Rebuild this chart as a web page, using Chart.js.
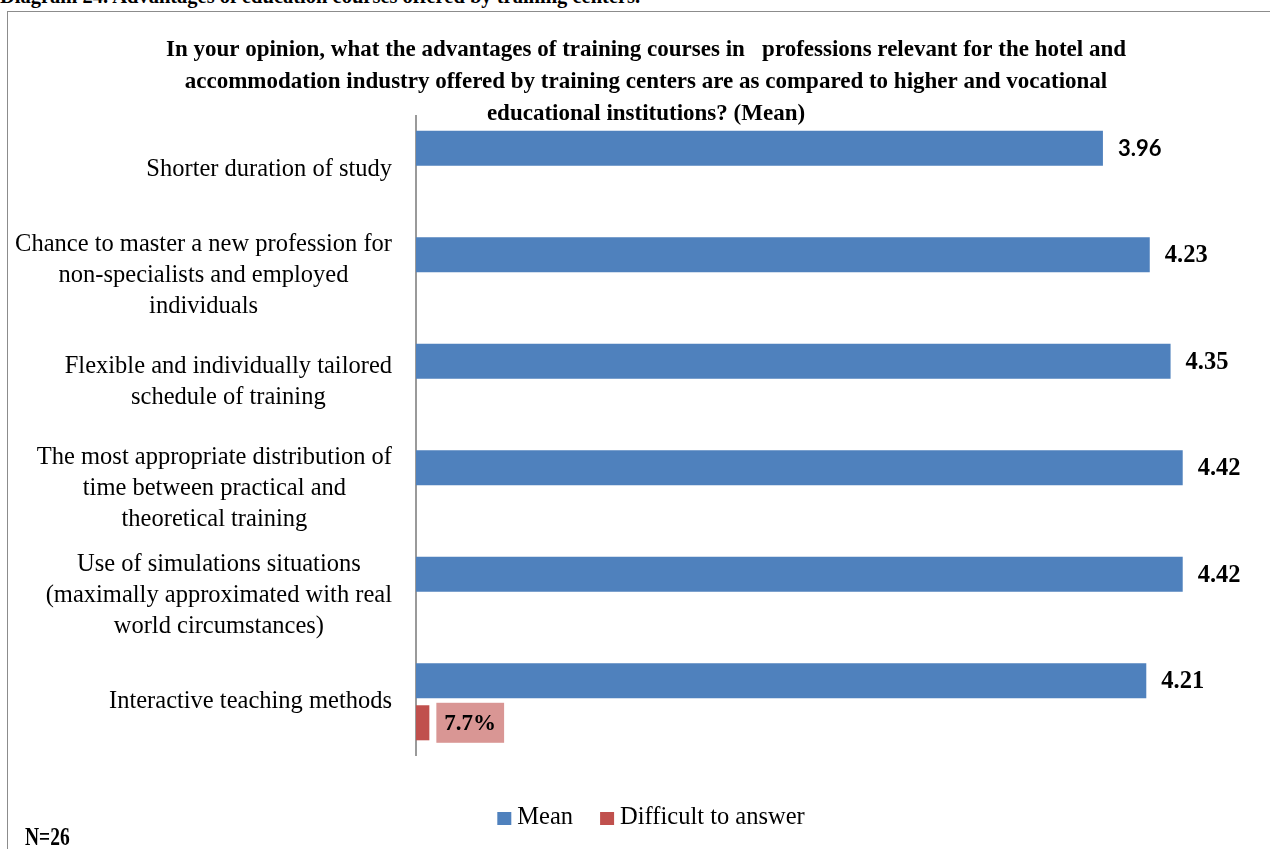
<!DOCTYPE html>
<html>
<head>
<meta charset="utf-8">
<title>Diagram 24</title>
<script src="https://cdn.jsdelivr.net/npm/chart.js@4"></script>
<style>
  html, body { margin: 0; padding: 0; background: #fff; overflow: hidden; }
  #heading {
    position: absolute; left: 0; top: -14px; white-space: nowrap;
    font: bold 20.5px/21px "Liberation Serif", serif; color: #000;
  }
  #frame {
    position: absolute; left: 7px; top: 11px; width: 1400px; height: 900px;
    border-left: 1px solid #8c8c8c; border-top: 1px solid #8c8c8c;
  }
  #wrap { position: absolute; left: 0; top: 0; width: 1292px; height: 849px; }
  #note {
    position: absolute; left: 25px; top: 822px;
    font: bold 26px/30px "Liberation Serif", serif; color: #000;
    transform: scaleX(0.75); transform-origin: left center;
  }
</style>
</head>
<body>
<div id="heading">Diagram 24. Advantages of education courses offered by training centers.</div>
<div id="frame"></div>
<div id="wrap"><canvas id="chart"></canvas></div>
<div id="note">N=26</div>
<script>
// Les catégories (une ligne de texte par élément du tableau)
const categories = [
    ['Shorter duration of study'],
    ['Chance to master a new profession for', 'non-specialists and employed', 'individuals'],
    ['Flexible and individually tailored', 'schedule of training'],
    ['The most appropriate distribution of', 'time between practical and', 'theoretical training'],
    ['Use of simulations situations', '(maximally approximated with real', 'world circumstances)'],
    ['Interactive teaching methods'],
];
const meanValues = [3.96, 4.23, 4.35, 4.42, 4.42, 4.21];
const difficultValues = [null, null, null, null, null, 0.077];
const seriesNames = ['Mean', 'Difficult to answer'];
const titleLines = [
    'In your opinion, what the advantages of training courses in   professions relevant for the hotel and',
    'accommodation industry offered by training centers are as compared to higher and vocational',
    'educational institutions? (Mean)',
];

const BLUE = '#4F81BD';
const RED = '#C0504D';
const SERIF = '"Liberation Serif", serif';

// Libellés des catégories : bloc aligné à droite, lignes centrées
const categoryLabels = {
    id: 'categoryLabels',
    afterDraw(chart) {
        const ctx = chart.ctx;
        const yScale = chart.scales.y;
        const right = chart.chartArea.left - 24;
        ctx.save();
        ctx.font = '24.5px ' + SERIF;
        ctx.fillStyle = '#000';
        ctx.textAlign = 'center';
        ctx.textBaseline = 'middle';
        chart.data.labels.forEach((lines, i) => {
            const maxW = Math.max(...lines.map(l => ctx.measureText(l).width));
            const cx = right - maxW / 2;
            const cy = yScale.getPixelForValue(i);
            lines.forEach((line, k) => {
                ctx.fillText(line, cx, cy + (k - (lines.length - 1) / 2) * 31);
            });
        });
        ctx.restore();
    }
};

// Valeurs affichées au bout des barres
const valueLabels = {
    id: 'valueLabels',
    afterDatasetsDraw(chart) {
        const ctx = chart.ctx;
        ctx.save();
        ctx.textBaseline = 'middle';
        ctx.textAlign = 'left';

        chart.getDatasetMeta(0).data.forEach((bar, i) => {
            const v = chart.data.datasets[0].data[i];
            if (v == null) return;
            ctx.font = i === 0 ? 'bold 22px Lato, sans-serif' : 'bold 24.5px ' + SERIF;
            ctx.fillStyle = '#000';
            ctx.fillText(v.toFixed(2), bar.x + 15, bar.y + 1);
        });

        chart.getDatasetMeta(1).data.forEach((bar, i) => {
            const v = chart.data.datasets[1].data[i];
            if (v == null) return;
            const text = (v * 100).toFixed(1) + '%';
            ctx.font = 'bold 23px ' + SERIF;
            const w = ctx.measureText(text).width;
            const bx = bar.x + 7;
            ctx.fillStyle = '#D99694';
            ctx.fillRect(bx, bar.y - 20, w + 16, 40);
            ctx.fillStyle = '#000';
            ctx.fillText(text, bx + 8, bar.y + 1);
        });
        ctx.restore();
    }
};

// Légende en bas du graphique
const bottomLegend = {
    id: 'bottomLegend',
    afterDraw(chart) {
        const ctx = chart.ctx;
        const centerX = 651;
        const y = 818;
        const gap = 27;
        ctx.save();
        ctx.font = '24.5px ' + SERIF;
        ctx.textBaseline = 'middle';
        ctx.textAlign = 'left';
        const items = chart.data.datasets.map(ds => ({
            label: ds.label,
            color: ds.backgroundColor,
            w: 14 + 6 + ctx.measureText(ds.label).width,
        }));
        const total = items.reduce((s, it) => s + it.w, 0) + gap * (items.length - 1);
        let x = centerX - total / 2;
        items.forEach(it => {
            ctx.fillStyle = it.color;
            ctx.fillRect(x, y - 6, 14, 13);
            ctx.fillStyle = '#000';
            ctx.fillText(it.label, x + 20, y);
            x += it.w + gap;
        });
        ctx.restore();
    }
};

new Chart(document.getElementById('chart'), {
    type: 'bar',
    data: {
        labels: categories,
        datasets: [
            {
                label: seriesNames[0],
                data: meanValues,
                backgroundColor: BLUE,
                categoryPercentage: 0.79,
                barPercentage: 0.833,
            },
            {
                label: seriesNames[1],
                data: difficultValues,
                backgroundColor: RED,
                categoryPercentage: 0.79,
                barPercentage: 0.833,
            },
        ],
    },
    options: {
        indexAxis: 'y',
        responsive: true,
        maintainAspectRatio: false,
        animation: false,
        layout: {
            padding: { left: 0, right: 0, top: 0, bottom: 94 },
        },
        scales: {
            x: {
                display: false,
                min: 0,
                max: 5.05,
            },
            y: {
                display: true,
                ticks: { display: false },
                grid: { display: false },
                border: { display: true, color: '#9a9a9a', width: 2 },
                // largeur réservée aux libellés dessinés à gauche de l'axe
                afterFit(scale) { scale.width = 416; },
            },
        },
        plugins: {
            legend: { display: false },
            tooltip: { enabled: false },
            title: {
                display: true,
                text: titleLines,
                color: '#000',
                font: { family: SERIF, size: 23, weight: 'bold', lineHeight: 32 / 23 },
                padding: { top: 34, bottom: -14 },
            },
        },
    },
    plugins: [categoryLabels, valueLabels, bottomLegend],
});
</script>
</body>
</html>
